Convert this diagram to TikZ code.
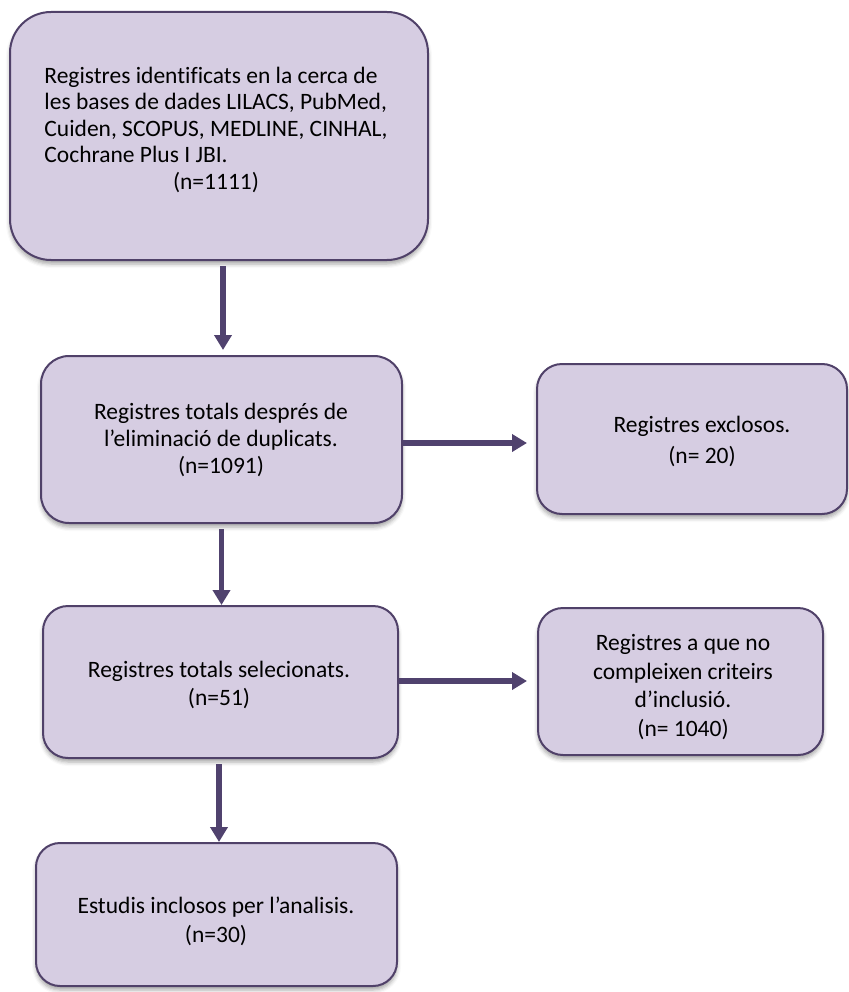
\documentclass[tikz,border=0pt]{standalone}
\usepackage{fontspec}
\setmainfont[Ligatures=NoCommon]{Carlito}
\usetikzlibrary{arrows.meta,shadows.blur}
\definecolor{boxfill}{RGB}{214,205,226}
\definecolor{boxline}{RGB}{80,65,105}
\definecolor{arrowc}{RGB}{80,66,110}
\tikzset{
  flowbox/.style={draw=boxline, line width=2pt, fill=boxfill, inner sep=0pt,
    blur shadow={shadow xshift=0pt, shadow yshift=-4pt, shadow blur radius=4pt, shadow opacity=35}},
  txt/.style={align=center, text=black, inner sep=0pt},
  flowarrow/.style={draw=arrowc, line width=5.5pt, -{Triangle[length=15pt,width=17pt]}}
}
\begin{document}
\begin{tikzpicture}[x=1pt,y=-1pt]
\useasboundingbox (0,0) rectangle (848,992);
% boxes
\node[flowbox, minimum width=418pt, minimum height=248pt, rounded corners=41pt] (b1) at (219,136) {};
\node[flowbox, minimum width=361pt, minimum height=167pt, rounded corners=28pt] (b2) at (221.5,439.5) {};
\node[flowbox, minimum width=310pt, minimum height=150pt, rounded corners=25pt] (r1) at (692,439) {};
\node[flowbox, minimum width=355pt, minimum height=152pt, rounded corners=25pt] (b3) at (220.5,682) {};
\node[flowbox, minimum width=285pt, minimum height=147pt, rounded corners=25pt] (r2) at (680.5,681.5) {};
\node[flowbox, minimum width=361pt, minimum height=143pt, rounded corners=24pt] (b4) at (216.5,914.5) {};
% texts
\node[txt, font=\fontsize{23.5}{26.6}\selectfont] (t1) at (216,131) {%
  \begin{tabular}{@{}l@{}}
  Registres identificats en la cerca de\\
  les bases de dades LILACS, PubMed,\\
  Cuiden, SCOPUS, MEDLINE, CINHAL,\\
  Cochrane Plus I JBI.\\
  \multicolumn{1}{@{}c@{}}{(n=1111)}
  \end{tabular}};
\node[txt, font=\fontsize{23.5}{27}\selectfont] (t2) at (221,440) {Registres totals després de\\l’eliminació de duplicats.\\(n=1091)};
\node[txt, font=\fontsize{23.5}{31}\selectfont] (tr1) at (702,441) {Registres exclosos.\\(n= 20)};
\node[txt, font=\fontsize{23.5}{28}\selectfont] (t3) at (219,685) {Registres totals selecionats.\\(n=51)};
\node[txt, font=\fontsize{23.5}{28.5}\selectfont] (tr2) at (683,687) {Registres a que no\\compleixen criteirs\\d’inclusió.\\(n= 1040)};
\node[txt, font=\fontsize{23.5}{29}\selectfont] (t4) at (216,921) {Estudis inclosos per l’analisis.\\(n=30)};
% arrows
\draw[flowarrow, shorten <=5pt, shorten >=5pt] ([xshift=4pt]b1.south) -- ([xshift=4pt]b1.south |- b2.north);
\draw[flowarrow, shorten <=5pt, shorten >=0pt] (b2.south) -- (b2.south |- b3.north);
\draw[flowarrow, shorten <=5pt, shorten >=0pt] ([xshift=-1.5pt]b3.south) -- ([xshift=-1.5pt]b3.south |- b4.north);
\draw[flowarrow, shorten >=9pt] ([yshift=-3.5pt]b2.east) -- ([yshift=-3.5pt]b2.east -| r1.west);
\draw[flowarrow, shorten >=10pt] ([yshift=1pt]b3.east) -- ([yshift=1pt]b3.east -| r2.west);
\end{tikzpicture}
\end{document}
